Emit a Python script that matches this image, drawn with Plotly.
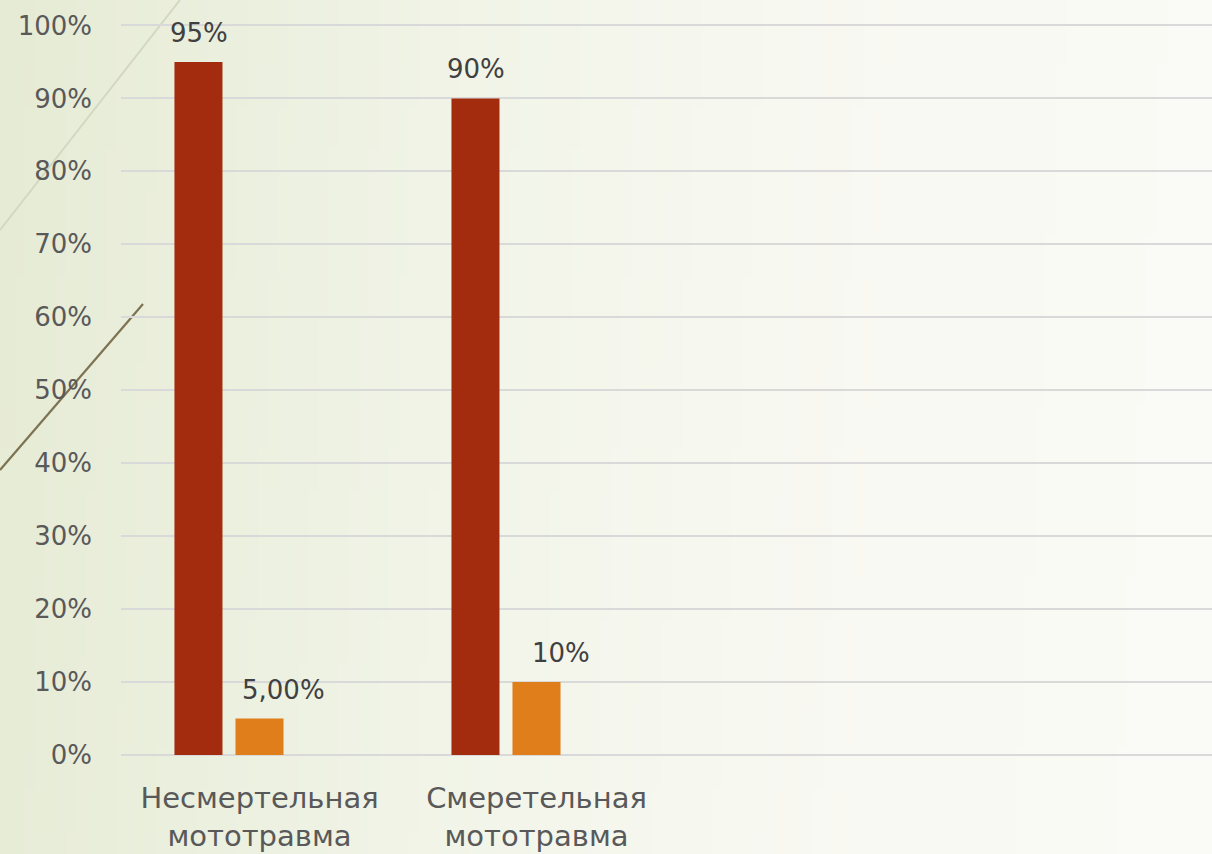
import base64
import struct
import zlib

import plotly.graph_objects as go

# ---------------- data ----------------
categories = ["Несмертельная<br>мототравма", "Смеретельная<br>мототравма"]
series1 = [0.95, 0.90]
series2 = [0.05, 0.10]
series3 = [0, 0]
labels1 = ["95%", "90%"]
labels2 = ["5,00%", "10%"]
y_tickvals = [0, 0.1, 0.2, 0.3, 0.4, 0.5, 0.6, 0.7, 0.8, 0.9, 1.0]
y_ticktext = ["0%", "10%", "20%", "30%", "40%", "50%", "60%", "70%", "80%", "90%", "100%"]

W, H = 1212, 854
RED = "#A32C0E"
ORANGE = "#DF7E1A"
FONT = "Century Gothic, DejaVu Sans, sans-serif"


# ---------------- background gradient image ----------------
def make_png(width, height, pixel):
    raw = bytearray()
    for yy in range(height):
        raw.append(0)
        for xx in range(width):
            raw.extend(pixel(xx, yy))
    def chunk(tag, data):
        c = struct.pack(">I", len(data)) + tag + data
        return c + struct.pack(">I", zlib.crc32(tag + data) & 0xFFFFFFFF)
    png = b"\x89PNG\r\n\x1a\n"
    png += chunk(b"IHDR", struct.pack(">IIBBBBB", width, height, 8, 2, 0, 0, 0))
    png += chunk(b"IDAT", zlib.compress(bytes(raw), 9))
    png += chunk(b"IEND", b"")
    return "data:image/png;base64," + base64.b64encode(png).decode()


stops = [(0.0, (230, 235, 213)), (0.25, (237, 241, 225)), (0.5, (244, 246, 236)),
         (0.75, (249, 249, 243)), (1.0, (250, 250, 246))]


def grad(xx, yy, gw=120, gh=20):
    t = xx / (gw - 1)
    v = yy / (gh - 1)
    t = min(1.0, t + 0.04 * v)
    for i in range(len(stops) - 1):
        a, ca = stops[i]
        b, cb = stops[i + 1]
        if a <= t <= b:
            f = (t - a) / (b - a)
            return bytes(int(round(ca[k] + (cb[k] - ca[k]) * f)) for k in range(3))
    return bytes(stops[-1][1])


bg_src = make_png(120, 20, grad)

# ---------------- figure ----------------
fig = go.Figure()
fig.add_trace(go.Bar(x=categories, y=series1, marker=dict(color=RED, line=dict(width=0)),
                     name="Ряд 1", hoverinfo="skip"))
fig.add_trace(go.Bar(x=categories, y=series2, marker=dict(color=ORANGE, line=dict(width=0)),
                     name="Ряд 2", hoverinfo="skip"))
fig.add_trace(go.Bar(x=categories, y=series3, marker=dict(color="rgba(0,0,0,0)", line=dict(width=0)),
                     name="Ряд 3", hoverinfo="skip"))

LBL_FONT = dict(family=FONT, size=26, color="#404040")
annotations = []
for c, v, t in zip(categories, series1, labels1):
    annotations.append(dict(x=c, y=v, text=t, showarrow=False, xref="x", yref="y",
                            yanchor="bottom", xanchor="center", xshift=-61, yshift=12,
                            font=LBL_FONT))
for c, v, t in zip(categories, series2, labels2):
    annotations.append(dict(x=c, y=v, text=t, showarrow=False, xref="x", yref="y",
                            yanchor="bottom", xanchor="center", xshift=24, yshift=12,
                            font=LBL_FONT))

left_px, right_px, top_px, bottom_px = 121, 1212, 24, 755
cat_w = 277.0
x_hi = -0.5 + (right_px - left_px) / cat_w

fig.update_layout(
    width=W, height=H,
    margin=dict(l=0, r=0, t=0, b=0, autoexpand=False),
    paper_bgcolor="#F6F7EF",
    plot_bgcolor="rgba(0,0,0,0)",
    barmode="group",
    bargap=0.339,
    bargroupgap=0.213,
    showlegend=False,
    font=dict(family=FONT, color="#595959"),
    annotations=annotations,
    images=[dict(source=bg_src, xref="paper", yref="paper", x=0, y=1, sizex=1, sizey=1,
                 xanchor="left", yanchor="top", sizing="stretch", layer="below")],
    shapes=[
        dict(type="line", xref="paper", yref="paper", x0=0 / W, y0=1 - 230 / H, x1=180 / W, y1=1 - 0 / H,
             line=dict(color="#D3D7C2", width=2), layer="below"),
        dict(type="line", xref="paper", yref="paper", x0=0 / W, y0=1 - 470 / H, x1=143 / W, y1=1 - 304 / H,
             line=dict(color="#7D7352", width=2.2), layer="below"),
    ],
    xaxis=dict(
        domain=[left_px / W, right_px / W],
        range=[-0.5, x_hi],
        type="category",
        showgrid=False,
        showline=False,
        zeroline=False,
        ticks="",
        tickfont=dict(family=FONT, size=29, color="#595959"),
        ticklabelstandoff=23,
        automargin=False,
        fixedrange=True,
    ),
    yaxis=dict(
        domain=[1 - bottom_px / H, 1 - top_px / H],
        range=[0, 1.002],
        tickvals=y_tickvals,
        ticktext=y_ticktext,
        showgrid=True,
        gridcolor="#D9D9D9",
        gridwidth=1.5,
        zeroline=True,
        zerolinecolor="#D9D9D9",
        zerolinewidth=1.5,
        showline=False,
        ticks="",
        tickfont=dict(family=FONT, size=26, color="#595959"),
        ticklabelstandoff=28,
        automargin=False,
        fixedrange=True,
    ),
)

fig.write_html(
    "out.html",
    config={"displayModeBar": False},
    post_script="document.body.style.margin='0';document.body.style.overflow='hidden';",
)
